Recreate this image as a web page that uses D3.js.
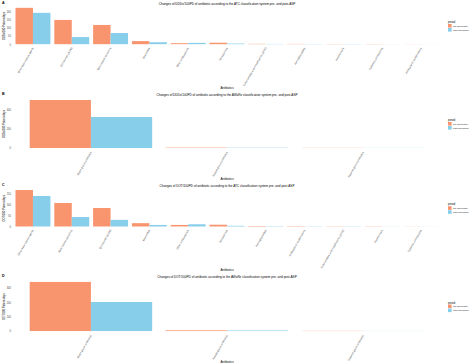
<!DOCTYPE html>
<html>
<head>
<meta charset="utf-8">
<script src="https://cdn.jsdelivr.net/npm/d3@7"></script>
<style>
  body { margin: 0; background: #fff; }
  svg { display: block; font-family: "Liberation Sans", Arial, sans-serif; }
</style>
</head>
<body>
<div id="chart"></div>
<script>
// A: ATC classes, DDDs/100PD
const atcDddCats = ["Other beta-lactam agents", "Quinolones (J01M)", "Beta-lactam penicillins", "Macrolides",
  "Other antibacterials", "Tetracyclines", "Sulfonamides and trimethoprim (J01E)", "Aminoglycosides",
  "Amphenicols", "Systemic antimycotics", "Antibacterial combinations"];
const atcDddPre = [225, 150, 119, 19, 6, 9, 2, 1.5, 1, 1, 0.5];
const atcDddPost = [194, 44, 69, 12, 8, 4, 1.5, 1, 1, 0.5, 0.3];
const atcDddTicks = [0, 50, 100, 150, 200];

// B: AWaRe groups, DDDs/100PD
const awareCats = ["Watch group antibiotics", "Access group antibiotics", "Reserve group antibiotics"];
const awareDddPre = [505, 4, 1.5];
const awareDddPost = [326, 3, 1];
const awareDddTicks = [0, 200, 400];

// C: ATC classes, DOT/100PD
const atcDotCats = ["Other beta-lactam agents", "Beta-lactam penicillins", "Quinolones (J01M)", "Macrolides",
  "Other antibacterials", "Tetracyclines", "Aminoglycosides", "Antibacterial combinations",
  "Sulfonamides and trimethoprim (J01E)", "Amphenicols", "Systemic antimycotics"];
const atcDotPre = [166, 107, 84, 15, 7, 8, 2, 1.5, 1, 1, 0.5];
const atcDotPost = [139, 43, 30, 7, 10, 3, 1.5, 1, 1, 0.5, 0.3];
const atcDotTicks = [0, 50, 100, 150];

// D: AWaRe groups, DOT/100PD
const awareDotPre = [343, 5, 1.2];
const awareDotPost = [203, 4, 0.8];
const awareDotTicks = [0, 100, 200, 300];

const periods = ["Pre-intervention", "Post-intervention"];
const colors = ["#F8946E", "#87CEEB"];

const width = 474, height = 364;
const plotLeft = 12, plotRight = 442;

const panels = [
  { letter: "A", title: "Changes of DDDs/100PD of antibiotic according to the ATC classification system pre- and post-ASP",
    cats: atcDddCats, pre: atcDddPre, post: atcDddPost, ticks: atcDddTicks, ylab: "DDDs/100 Patient-days",
    top: 6, bottom: 46, pad: 0.04, titleY: 5, xTitleY: 89 },
  { letter: "B", title: "Changes of DDDs/100PD of antibiotic according to the AWaRe classification system pre- and post-ASP",
    cats: awareCats, pre: awareDddPre, post: awareDddPost, ticks: awareDddTicks, ylab: "DDDs/100 Patient-days",
    top: 97.6, bottom: 150.4, pad: 0.08, titleY: 95.5, xTitleY: 180 },
  { letter: "C", title: "Changes of DOT/100PD of antibiotic according to the ATC classification system pre- and post-ASP",
    cats: atcDotCats, pre: atcDotPre, post: atcDotPost, ticks: atcDotTicks, ylab: "DOT/100 Patient-days",
    top: 188.2, bottom: 228.3, pad: 0.04, titleY: 186.5, xTitleY: 271 },
  { letter: "D", title: "Changes of DOT/100PD of antibiotic according to the AWaRe classification system pre- and post-ASP",
    cats: awareCats, pre: awareDotPre, post: awareDotPost, ticks: awareDotTicks, ylab: "DOT/100 Patient-days",
    top: 279.5, bottom: 333.5, pad: 0.08, titleY: 277.5, xTitleY: 362.5 }
];

const svg = d3.select("#chart").append("svg")
  .attr("width", width)
  .attr("height", height);

function drawPanel(p) {
  const g = svg.append("g");
  const M = d3.max(p.pre.concat(p.post));

  const y = d3.scaleLinear()
    .domain([-0.05 * M, 1.05 * M])
    .range([p.bottom, p.top]);

  const x = d3.scaleBand()
    .domain(p.cats)
    .range([plotLeft, plotRight])
    .paddingInner(0)
    .paddingOuter(p.pad);

  const xSub = d3.scaleBand()
    .domain(periods)
    .range([x.bandwidth() * 0.05, x.bandwidth() * 0.95]);

  const rows = p.cats.map((c, i) => ({ cat: c, values: [
    { period: periods[0], v: p.pre[i] },
    { period: periods[1], v: p.post[i] }
  ]}));

  // bars
  g.selectAll("g.cat")
    .data(rows)
    .enter()
    .append("g")
    .attr("class", "cat")
    .attr("transform", d => "translate(" + x(d.cat) + ",0)")
    .selectAll("rect")
    .data(d => d.values)
    .enter()
    .append("rect")
    .attr("x", d => xSub(d.period))
    .attr("width", xSub.bandwidth())
    .attr("y", d => y(d.v))
    .attr("height", d => y(0) - y(d.v))
    .attr("fill", (d, i) => colors[i]);

  // y axis
  const yAxis = g.append("g")
    .attr("transform", "translate(" + plotLeft + ",0)")
    .call(d3.axisLeft(y).tickValues(p.ticks).tickSize(0).tickPadding(1));
  yAxis.select(".domain").remove();
  yAxis.selectAll("text").attr("font-size", 2.6).attr("fill", "#4d4d4d");

  // x axis
  const xAxis = g.append("g")
    .attr("transform", "translate(0," + p.bottom + ")")
    .call(d3.axisBottom(x).tickSize(0));
  xAxis.select(".domain").remove();
  xAxis.selectAll("text")
    .attr("font-size", 2.6)
    .attr("fill", "#4d4d4d")
    .attr("text-anchor", "end")
    .attr("x", 0)
    .attr("y", 0)
    .attr("dy", "0.35em")
    .attr("transform", "translate(0,1.6) rotate(-60)");

  // titles
  g.append("text")
    .attr("x", 2)
    .attr("y", p.titleY - 1)
    .attr("font-size", 3.6)
    .attr("font-weight", "bold")
    .text(p.letter);

  g.append("text")
    .attr("x", (plotLeft + plotRight) / 2)
    .attr("y", p.titleY)
    .attr("text-anchor", "middle")
    .attr("font-size", 3.1)
    .text(p.title);

  g.append("text")
    .attr("x", (plotLeft + plotRight) / 2)
    .attr("y", p.xTitleY)
    .attr("text-anchor", "middle")
    .attr("font-size", 2.9)
    .text("Antibiotics");

  g.append("text")
    .attr("transform", "translate(5," + (p.top + p.bottom) / 2 + ") rotate(-90)")
    .attr("text-anchor", "middle")
    .attr("font-size", 2.7)
    .text(p.ylab);

  // legend
  const cy = (p.top + p.bottom) / 2;
  const lg = g.append("g").attr("transform", "translate(448," + cy + ")");
  lg.append("text")
    .attr("x", 0)
    .attr("y", -3)
    .attr("font-size", 2.6)
    .text("period");
  const items = lg.selectAll("g.key")
    .data(periods)
    .enter()
    .append("g")
    .attr("transform", (d, i) => "translate(0," + (-2 + i * 4) + ")");
  items.append("rect")
    .attr("width", 3.6)
    .attr("height", 3.6)
    .attr("fill", (d, i) => colors[i]);
  items.append("text")
    .attr("x", 5)
    .attr("y", 2.6)
    .attr("font-size", 2.1)
    .text(d => d);
}

panels.forEach(drawPanel);
</script>
</body>
</html>
